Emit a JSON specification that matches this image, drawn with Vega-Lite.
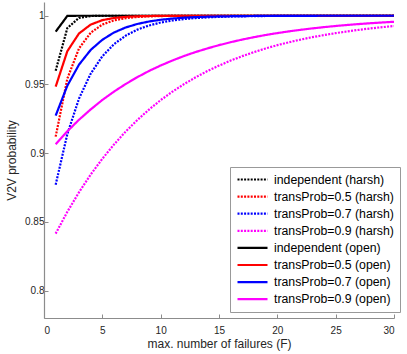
{
  "$schema": "https://vega.github.io/schema/vega-lite/v6.json",
  "autosize": "none",
  "width": 350,
  "height": 316,
  "padding": {"left": 44, "top": 2, "right": 13, "bottom": 36},
  "config": {
    "font": "Liberation Sans",
    "view": {"stroke": null},
    "axis": {
      "domainColor": "#8c8c8c",
      "domainWidth": 1.2,
      "tickColor": "#8c8c8c",
      "tickWidth": 1,
      "tickSize": -4,
      "grid": false,
      "labelColor": "#262626",
      "labelFontSize": 10,
      "titleColor": "#262626",
      "titleFontSize": 12,
      "titleFontWeight": "normal"
    },
    "legend": {
      "orient": "none",
      "legendX": 186,
      "legendY": 165,
      "padding": 6,
      "strokeColor": "#999999",
      "fillColor": "white",
      "cornerRadius": 0,
      "labelFontSize": 12.3,
      "labelColor": "#000000",
      "symbolType": "M-1,0H5",
      "symbolSize": 100,
      "symbolStrokeWidth": 2.2,
      "rowPadding": 4.1,
      "labelOffset": 25,
      "labelLimit": 300
    }
  },
  "data": {"values": [
    {"s":"independent (harsh)","F":1,"p":0.960},{"s":"independent (harsh)","F":2,"p":0.991},{"s":"independent (harsh)","F":3,"p":0.9985},{"s":"independent (harsh)","F":4,"p":0.9998},{"s":"independent (harsh)","F":5,"p":0.99997},{"s":"independent (harsh)","F":6,"p":1},{"s":"independent (harsh)","F":7,"p":1},{"s":"independent (harsh)","F":8,"p":1},{"s":"independent (harsh)","F":9,"p":1},{"s":"independent (harsh)","F":10,"p":1},{"s":"independent (harsh)","F":11,"p":1},{"s":"independent (harsh)","F":12,"p":1},{"s":"independent (harsh)","F":13,"p":1},{"s":"independent (harsh)","F":14,"p":1},{"s":"independent (harsh)","F":15,"p":1},{"s":"independent (harsh)","F":16,"p":1},{"s":"independent (harsh)","F":17,"p":1},{"s":"independent (harsh)","F":18,"p":1},{"s":"independent (harsh)","F":19,"p":1},{"s":"independent (harsh)","F":20,"p":1},{"s":"independent (harsh)","F":21,"p":1},{"s":"independent (harsh)","F":22,"p":1},{"s":"independent (harsh)","F":23,"p":1},{"s":"independent (harsh)","F":24,"p":1},{"s":"independent (harsh)","F":25,"p":1},{"s":"independent (harsh)","F":26,"p":1},{"s":"independent (harsh)","F":27,"p":1},{"s":"independent (harsh)","F":28,"p":1},{"s":"independent (harsh)","F":29,"p":1},{"s":"independent (harsh)","F":30,"p":1},
    {"s":"transProb=0.5 (harsh)","F":1,"p":0.912},{"s":"transProb=0.5 (harsh)","F":2,"p":0.9542},{"s":"transProb=0.5 (harsh)","F":3,"p":0.9762},{"s":"transProb=0.5 (harsh)","F":4,"p":0.9876},{"s":"transProb=0.5 (harsh)","F":5,"p":0.9936},{"s":"transProb=0.5 (harsh)","F":6,"p":0.99665},{"s":"transProb=0.5 (harsh)","F":7,"p":0.99826},{"s":"transProb=0.5 (harsh)","F":8,"p":0.9991},{"s":"transProb=0.5 (harsh)","F":9,"p":0.99953},{"s":"transProb=0.5 (harsh)","F":10,"p":0.99976},{"s":"transProb=0.5 (harsh)","F":11,"p":0.99987},{"s":"transProb=0.5 (harsh)","F":12,"p":0.99993},{"s":"transProb=0.5 (harsh)","F":13,"p":0.99997},{"s":"transProb=0.5 (harsh)","F":14,"p":0.99998},{"s":"transProb=0.5 (harsh)","F":15,"p":0.99999},{"s":"transProb=0.5 (harsh)","F":16,"p":1},{"s":"transProb=0.5 (harsh)","F":17,"p":1},{"s":"transProb=0.5 (harsh)","F":18,"p":1},{"s":"transProb=0.5 (harsh)","F":19,"p":1},{"s":"transProb=0.5 (harsh)","F":20,"p":1},{"s":"transProb=0.5 (harsh)","F":21,"p":1},{"s":"transProb=0.5 (harsh)","F":22,"p":1},{"s":"transProb=0.5 (harsh)","F":23,"p":1},{"s":"transProb=0.5 (harsh)","F":24,"p":1},{"s":"transProb=0.5 (harsh)","F":25,"p":1},{"s":"transProb=0.5 (harsh)","F":26,"p":1},{"s":"transProb=0.5 (harsh)","F":27,"p":1},{"s":"transProb=0.5 (harsh)","F":28,"p":1},{"s":"transProb=0.5 (harsh)","F":29,"p":1},{"s":"transProb=0.5 (harsh)","F":30,"p":1},
    {"s":"transProb=0.7 (harsh)","F":1,"p":0.877},{"s":"transProb=0.7 (harsh)","F":2,"p":0.9139},{"s":"transProb=0.7 (harsh)","F":3,"p":0.9397},{"s":"transProb=0.7 (harsh)","F":4,"p":0.9578},{"s":"transProb=0.7 (harsh)","F":5,"p":0.9705},{"s":"transProb=0.7 (harsh)","F":6,"p":0.9793},{"s":"transProb=0.7 (harsh)","F":7,"p":0.9855},{"s":"transProb=0.7 (harsh)","F":8,"p":0.9899},{"s":"transProb=0.7 (harsh)","F":9,"p":0.9929},{"s":"transProb=0.7 (harsh)","F":10,"p":0.99504},{"s":"transProb=0.7 (harsh)","F":11,"p":0.99653},{"s":"transProb=0.7 (harsh)","F":12,"p":0.99757},{"s":"transProb=0.7 (harsh)","F":13,"p":0.9983},{"s":"transProb=0.7 (harsh)","F":14,"p":0.99881},{"s":"transProb=0.7 (harsh)","F":15,"p":0.99917},{"s":"transProb=0.7 (harsh)","F":16,"p":0.99942},{"s":"transProb=0.7 (harsh)","F":17,"p":0.99959},{"s":"transProb=0.7 (harsh)","F":18,"p":0.99971},{"s":"transProb=0.7 (harsh)","F":19,"p":0.9998},{"s":"transProb=0.7 (harsh)","F":20,"p":0.99986},{"s":"transProb=0.7 (harsh)","F":21,"p":0.9999},{"s":"transProb=0.7 (harsh)","F":22,"p":0.99993},{"s":"transProb=0.7 (harsh)","F":23,"p":0.99995},{"s":"transProb=0.7 (harsh)","F":24,"p":0.99997},{"s":"transProb=0.7 (harsh)","F":25,"p":0.999976},{"s":"transProb=0.7 (harsh)","F":26,"p":0.999984},{"s":"transProb=0.7 (harsh)","F":27,"p":0.999988},{"s":"transProb=0.7 (harsh)","F":28,"p":0.999992},{"s":"transProb=0.7 (harsh)","F":29,"p":0.999994},{"s":"transProb=0.7 (harsh)","F":30,"p":0.999996},
    {"s":"transProb=0.9 (harsh)","F":1,"p":0.8414},{"s":"transProb=0.9 (harsh)","F":2,"p":0.8573},{"s":"transProb=0.9 (harsh)","F":3,"p":0.8715},{"s":"transProb=0.9 (harsh)","F":4,"p":0.8844},{"s":"transProb=0.9 (harsh)","F":5,"p":0.8959},{"s":"transProb=0.9 (harsh)","F":6,"p":0.9063},{"s":"transProb=0.9 (harsh)","F":7,"p":0.9157},{"s":"transProb=0.9 (harsh)","F":8,"p":0.9241},{"s":"transProb=0.9 (harsh)","F":9,"p":0.9317},{"s":"transProb=0.9 (harsh)","F":10,"p":0.9386},{"s":"transProb=0.9 (harsh)","F":11,"p":0.9447},{"s":"transProb=0.9 (harsh)","F":12,"p":0.9502},{"s":"transProb=0.9 (harsh)","F":13,"p":0.9552},{"s":"transProb=0.9 (harsh)","F":14,"p":0.9597},{"s":"transProb=0.9 (harsh)","F":15,"p":0.9637},{"s":"transProb=0.9 (harsh)","F":16,"p":0.96735},{"s":"transProb=0.9 (harsh)","F":17,"p":0.97061},{"s":"transProb=0.9 (harsh)","F":18,"p":0.97355},{"s":"transProb=0.9 (harsh)","F":19,"p":0.9762},{"s":"transProb=0.9 (harsh)","F":20,"p":0.97858},{"s":"transProb=0.9 (harsh)","F":21,"p":0.98072},{"s":"transProb=0.9 (harsh)","F":22,"p":0.98265},{"s":"transProb=0.9 (harsh)","F":23,"p":0.98438},{"s":"transProb=0.9 (harsh)","F":24,"p":0.98594},{"s":"transProb=0.9 (harsh)","F":25,"p":0.98735},{"s":"transProb=0.9 (harsh)","F":26,"p":0.98862},{"s":"transProb=0.9 (harsh)","F":27,"p":0.98975},{"s":"transProb=0.9 (harsh)","F":28,"p":0.99078},{"s":"transProb=0.9 (harsh)","F":29,"p":0.9917},{"s":"transProb=0.9 (harsh)","F":30,"p":0.99253},
    {"s":"independent (open)","F":1,"p":0.9884},{"s":"independent (open)","F":2,"p":0.99987},{"s":"independent (open)","F":3,"p":1},{"s":"independent (open)","F":4,"p":1},{"s":"independent (open)","F":5,"p":1},{"s":"independent (open)","F":6,"p":1},{"s":"independent (open)","F":7,"p":1},{"s":"independent (open)","F":8,"p":1},{"s":"independent (open)","F":9,"p":1},{"s":"independent (open)","F":10,"p":1},{"s":"independent (open)","F":11,"p":1},{"s":"independent (open)","F":12,"p":1},{"s":"independent (open)","F":13,"p":1},{"s":"independent (open)","F":14,"p":1},{"s":"independent (open)","F":15,"p":1},{"s":"independent (open)","F":16,"p":1},{"s":"independent (open)","F":17,"p":1},{"s":"independent (open)","F":18,"p":1},{"s":"independent (open)","F":19,"p":1},{"s":"independent (open)","F":20,"p":1},{"s":"independent (open)","F":21,"p":1},{"s":"independent (open)","F":22,"p":1},{"s":"independent (open)","F":23,"p":1},{"s":"independent (open)","F":24,"p":1},{"s":"independent (open)","F":25,"p":1},{"s":"independent (open)","F":26,"p":1},{"s":"independent (open)","F":27,"p":1},{"s":"independent (open)","F":28,"p":1},{"s":"independent (open)","F":29,"p":1},{"s":"independent (open)","F":30,"p":1},
    {"s":"transProb=0.5 (open)","F":1,"p":0.9484},{"s":"transProb=0.5 (open)","F":2,"p":0.9742},{"s":"transProb=0.5 (open)","F":3,"p":0.9871},{"s":"transProb=0.5 (open)","F":4,"p":0.99355},{"s":"transProb=0.5 (open)","F":5,"p":0.99678},{"s":"transProb=0.5 (open)","F":6,"p":0.99839},{"s":"transProb=0.5 (open)","F":7,"p":0.99919},{"s":"transProb=0.5 (open)","F":8,"p":0.9996},{"s":"transProb=0.5 (open)","F":9,"p":0.9998},{"s":"transProb=0.5 (open)","F":10,"p":0.9999},{"s":"transProb=0.5 (open)","F":11,"p":0.99995},{"s":"transProb=0.5 (open)","F":12,"p":0.99998},{"s":"transProb=0.5 (open)","F":13,"p":0.99999},{"s":"transProb=0.5 (open)","F":14,"p":1},{"s":"transProb=0.5 (open)","F":15,"p":1},{"s":"transProb=0.5 (open)","F":16,"p":1},{"s":"transProb=0.5 (open)","F":17,"p":1},{"s":"transProb=0.5 (open)","F":18,"p":1},{"s":"transProb=0.5 (open)","F":19,"p":1},{"s":"transProb=0.5 (open)","F":20,"p":1},{"s":"transProb=0.5 (open)","F":21,"p":1},{"s":"transProb=0.5 (open)","F":22,"p":1},{"s":"transProb=0.5 (open)","F":23,"p":1},{"s":"transProb=0.5 (open)","F":24,"p":1},{"s":"transProb=0.5 (open)","F":25,"p":1},{"s":"transProb=0.5 (open)","F":26,"p":1},{"s":"transProb=0.5 (open)","F":27,"p":1},{"s":"transProb=0.5 (open)","F":28,"p":1},{"s":"transProb=0.5 (open)","F":29,"p":1},{"s":"transProb=0.5 (open)","F":30,"p":1},
    {"s":"transProb=0.7 (open)","F":1,"p":0.9273},{"s":"transProb=0.7 (open)","F":2,"p":0.9491},{"s":"transProb=0.7 (open)","F":3,"p":0.9644},{"s":"transProb=0.7 (open)","F":4,"p":0.9751},{"s":"transProb=0.7 (open)","F":5,"p":0.9825},{"s":"transProb=0.7 (open)","F":6,"p":0.9878},{"s":"transProb=0.7 (open)","F":7,"p":0.99145},{"s":"transProb=0.7 (open)","F":8,"p":0.99401},{"s":"transProb=0.7 (open)","F":9,"p":0.99581},{"s":"transProb=0.7 (open)","F":10,"p":0.99707},{"s":"transProb=0.7 (open)","F":11,"p":0.99795},{"s":"transProb=0.7 (open)","F":12,"p":0.99856},{"s":"transProb=0.7 (open)","F":13,"p":0.99899},{"s":"transProb=0.7 (open)","F":14,"p":0.9993},{"s":"transProb=0.7 (open)","F":15,"p":0.99951},{"s":"transProb=0.7 (open)","F":16,"p":0.99965},{"s":"transProb=0.7 (open)","F":17,"p":0.99976},{"s":"transProb=0.7 (open)","F":18,"p":0.99983},{"s":"transProb=0.7 (open)","F":19,"p":0.99988},{"s":"transProb=0.7 (open)","F":20,"p":0.99992},{"s":"transProb=0.7 (open)","F":21,"p":0.99994},{"s":"transProb=0.7 (open)","F":22,"p":0.99996},{"s":"transProb=0.7 (open)","F":23,"p":0.99997},{"s":"transProb=0.7 (open)","F":24,"p":0.99998},{"s":"transProb=0.7 (open)","F":25,"p":0.999986},{"s":"transProb=0.7 (open)","F":26,"p":0.99999},{"s":"transProb=0.7 (open)","F":27,"p":0.999993},{"s":"transProb=0.7 (open)","F":28,"p":0.999995},{"s":"transProb=0.7 (open)","F":29,"p":0.999997},{"s":"transProb=0.7 (open)","F":30,"p":0.999998},
    {"s":"transProb=0.9 (open)","F":1,"p":0.9065},{"s":"transProb=0.9 (open)","F":2,"p":0.91585},{"s":"transProb=0.9 (open)","F":3,"p":0.9243},{"s":"transProb=0.9 (open)","F":4,"p":0.9318},{"s":"transProb=0.9 (open)","F":5,"p":0.9387},{"s":"transProb=0.9 (open)","F":6,"p":0.9448},{"s":"transProb=0.9 (open)","F":7,"p":0.9503},{"s":"transProb=0.9 (open)","F":8,"p":0.9553},{"s":"transProb=0.9 (open)","F":9,"p":0.9598},{"s":"transProb=0.9 (open)","F":10,"p":0.9638},{"s":"transProb=0.9 (open)","F":11,"p":0.9674},{"s":"transProb=0.9 (open)","F":12,"p":0.9707},{"s":"transProb=0.9 (open)","F":13,"p":0.9736},{"s":"transProb=0.9 (open)","F":14,"p":0.9762},{"s":"transProb=0.9 (open)","F":15,"p":0.9786},{"s":"transProb=0.9 (open)","F":16,"p":0.98075},{"s":"transProb=0.9 (open)","F":17,"p":0.98267},{"s":"transProb=0.9 (open)","F":18,"p":0.98441},{"s":"transProb=0.9 (open)","F":19,"p":0.98597},{"s":"transProb=0.9 (open)","F":20,"p":0.98737},{"s":"transProb=0.9 (open)","F":21,"p":0.98863},{"s":"transProb=0.9 (open)","F":22,"p":0.98977},{"s":"transProb=0.9 (open)","F":23,"p":0.99079},{"s":"transProb=0.9 (open)","F":24,"p":0.99171},{"s":"transProb=0.9 (open)","F":25,"p":0.99254},{"s":"transProb=0.9 (open)","F":26,"p":0.99329},{"s":"transProb=0.9 (open)","F":27,"p":0.99396},{"s":"transProb=0.9 (open)","F":28,"p":0.99456},{"s":"transProb=0.9 (open)","F":29,"p":0.99511},{"s":"transProb=0.9 (open)","F":30,"p":0.9956}
  ]},
  "mark": {"type": "line", "strokeWidth": 2.2, "clip": true},
  "encoding": {
    "x": {
      "field": "F", "type": "quantitative",
      "scale": {"domain": [0, 30], "nice": false},
      "axis": {"values": [0, 5, 10, 15, 20, 25, 30], "title": "max. number of failures (F)", "labelPadding": 11, "titlePadding": 3}
    },
    "y": {
      "field": "p", "type": "quantitative",
      "scale": {"domain": [0.78, 1.01], "nice": false, "zero": false},
      "axis": {"values": [0.8, 0.85, 0.9, 0.95, 1], "format": "~g", "title": "V2V probability", "labelPadding": 4, "titlePadding": 6}
    },
    "color": {
      "field": "s", "type": "nominal", "title": null,
      "scale": {
        "domain": ["independent (harsh)", "transProb=0.5 (harsh)", "transProb=0.7 (harsh)", "transProb=0.9 (harsh)", "independent (open)", "transProb=0.5 (open)", "transProb=0.7 (open)", "transProb=0.9 (open)"],
        "range": ["#000000", "#ff0000", "#0000ff", "#ff00ff", "#000000", "#ff0000", "#0000ff", "#ff00ff"]
      }
    },
    "strokeDash": {
      "field": "s", "type": "nominal", "title": null,
      "scale": {
        "domain": ["independent (harsh)", "transProb=0.5 (harsh)", "transProb=0.7 (harsh)", "transProb=0.9 (harsh)", "independent (open)", "transProb=0.5 (open)", "transProb=0.7 (open)", "transProb=0.9 (open)"],
        "range": [[2, 1.3], [2, 1.3], [2, 1.3], [2, 1.3], [1, 0], [1, 0], [1, 0], [1, 0]]
      }
    }
  }
}
